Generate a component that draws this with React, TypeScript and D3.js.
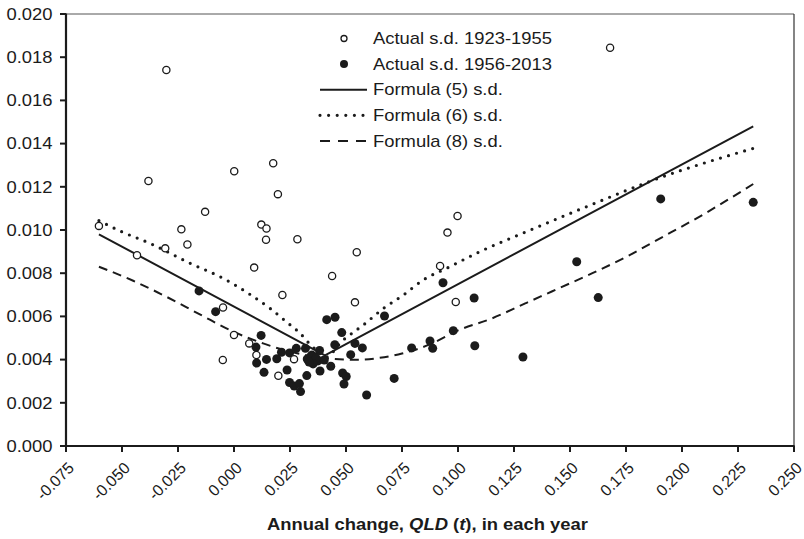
import React from "react";
import * as d3 from "d3";

const W = 804;
const H = 539;

// Axis ticks
const xTicks = [-0.075, -0.05, -0.025, 0, 0.025, 0.05, 0.075, 0.1, 0.125, 0.15, 0.175, 0.2, 0.225, 0.25];
const xTickLabels = ["-0.075", "-0.050", "-0.025", "0.000", "0.025", "0.050", "0.075", "0.100", "0.125", "0.150", "0.175", "0.200", "0.225", "0.250"];
const yTicks = [0, 0.002, 0.004, 0.006, 0.008, 0.01, 0.012, 0.014, 0.016, 0.018, 0.02];
const yTickLabels = ["0.000", "0.002", "0.004", "0.006", "0.008", "0.010", "0.012", "0.014", "0.016", "0.018", "0.020"];

const legendLabels = [
  "Actual s.d. 1923-1955",
  "Actual s.d. 1956-2013",
  "Formula (5) s.d.",
  "Formula (6) s.d.",
  "Formula (8) s.d.",
];

// Actual s.d. 1923-1955 (open circles): [QLD(t), s.d.]
const actual1923: [number, number][] = [
  [-0.0603, 0.01019], [-0.0433, 0.00883], [-0.0302, 0.01741], [-0.0382, 0.01227],
  [-0.0235, 0.01003], [-0.0208, 0.00933], [-0.0129, 0.01084], [0.0001, 0.01272],
  [-0.0307, 0.00915], [0.0122, 0.01025], [0.0145, 0.01007], [0.0143, 0.00955],
  [0.009, 0.00826], [-0.0049, 0.00641], [0.0, 0.00514], [0.0068, 0.00475],
  [0.01, 0.00421], [-0.005, 0.00398], [0.0268, 0.00402], [0.0198, 0.00325],
  [0.0175, 0.01309], [0.0196, 0.01166], [0.0283, 0.00957], [0.0548, 0.00897],
  [0.0953, 0.00988], [0.0998, 0.01065], [0.092, 0.00833], [0.1679, 0.01844],
  [0.0438, 0.00787], [0.054, 0.00665], [0.099, 0.00667], [0.0216, 0.00699],
];

// Actual s.d. 1956-2013 (filled circles)
const actual1956: [number, number][] = [
  [-0.0156, 0.00718], [-0.0082, 0.00622], [0.0121, 0.00512], [0.0098, 0.00458],
  [0.0101, 0.00384], [0.0145, 0.00401], [0.0134, 0.00341], [0.0191, 0.00404],
  [0.0212, 0.00434], [0.0248, 0.00431], [0.0278, 0.00452], [0.0237, 0.00352],
  [0.0248, 0.00294], [0.0269, 0.00278], [0.0297, 0.00252], [0.0292, 0.00289],
  [0.0325, 0.00326], [0.0319, 0.00452], [0.0327, 0.00403], [0.0347, 0.00387],
  [0.0362, 0.00412], [0.0382, 0.00442], [0.0384, 0.00347], [0.0375, 0.00394],
  [0.0348, 0.00421], [0.0403, 0.00398], [0.0432, 0.00369], [0.0414, 0.00585],
  [0.0451, 0.00596], [0.0481, 0.00525], [0.045, 0.00469], [0.0485, 0.00338],
  [0.0501, 0.00322], [0.0491, 0.00287], [0.0521, 0.00423], [0.054, 0.00475],
  [0.0573, 0.00454], [0.0592, 0.00236], [0.0672, 0.00602], [0.0715, 0.00313],
  [0.0793, 0.00454], [0.0875, 0.00486], [0.0887, 0.00452], [0.0933, 0.00756],
  [0.0979, 0.00534], [0.1072, 0.00685], [0.1075, 0.00464], [0.129, 0.00412],
  [0.153, 0.00853], [0.1626, 0.00687], [0.1905, 0.01144], [0.2318, 0.01128],
  [0.0344, 0.00417], [0.0366, 0.00407], [0.0353, 0.0038], [0.0335, 0.00389],
];

// Formula (5) s.d. (solid)
const formula5: [number, number][] = [
  [-0.0603, 0.0098], [0.0406, 0.0042], [0.2318, 0.0148],
];

// Formula (6) s.d. (dotted)
const formula6: [number, number][] = [
  [-0.0603, 0.01043], [-0.0501, 0.00992], [-0.0375, 0.00938], [-0.0196, 0.00846],
  [-0.0048, 0.00776], [0.0071, 0.00702], [0.0161, 0.00637], [0.0242, 0.00568],
  [0.0295, 0.00522], [0.0339, 0.00471], [0.0384, 0.00429], [0.0406, 0.0041],
  [0.0488, 0.00491], [0.0577, 0.0056], [0.0667, 0.00637], [0.0756, 0.00699],
  [0.0845, 0.00769], [0.095, 0.00823], [0.1098, 0.009], [0.13, 0.0099],
  [0.1574, 0.01108], [0.1872, 0.01231], [0.2318, 0.01378],
];

// Formula (8) s.d. (dashed)
const formula8: [number, number][] = [
  [-0.0603, 0.0083], [-0.045, 0.00765], [-0.03, 0.0069], [-0.015, 0.00608],
  [0.0, 0.00528], [0.013, 0.00475], [0.025, 0.00437], [0.035, 0.00415],
  [0.045, 0.00403], [0.055, 0.00399], [0.065, 0.00408], [0.075, 0.00428],
  [0.088, 0.00473], [0.1, 0.00535], [0.115, 0.0059], [0.13, 0.0066],
  [0.145, 0.0073], [0.16, 0.008], [0.175, 0.00875], [0.19, 0.0096],
  [0.21, 0.01075], [0.2318, 0.01213],
];

const INK = "#1b1b1b";
const FONT = "'Liberation Sans', Arial, Helvetica, sans-serif";

export default function App() {
  const x = d3.scaleLinear().domain([-0.075, 0.25]).range([66, 794]);
  const y = d3.scaleLinear().domain([0, 0.02]).range([446, 14]);

  const straight = d3.line<[number, number]>().x((d) => x(d[0])).y((d) => y(d[1]));
  const smooth = d3
    .line<[number, number]>()
    .x((d) => x(d[0]))
    .y((d) => y(d[1]))
    .curve(d3.curveMonotoneX);

  const x0 = x.range()[0];
  const x1 = x.range()[1];
  const y0 = y.range()[0];
  const y1 = y.range()[1];

  const legX = 344;
  const legY0 = 38.5;
  const legDy = 25.6;
  const legTextX = 373;

  return (
    <svg
      width={W}
      height={H}
      style={{ position: "absolute", left: 0, top: 0, background: "#fff" }}
      fontFamily={FONT}
    >
      <rect x={0} y={0} width={W} height={H} fill="#fff" />

      {/* frame: top & right thin */}
      <line x1={x0} x2={x1} y1={y1} y2={y1} stroke="#555" strokeWidth={1} />
      <line x1={x1} x2={x1} y1={y1} y2={y0} stroke="#333" strokeWidth={1.2} />

      {/* formula lines */}
      <path d={straight(formula5) || ""} fill="none" stroke={INK} strokeWidth={2} />
      <path
        d={smooth(formula6) || ""}
        fill="none"
        stroke={INK}
        strokeWidth={3.2}
        strokeDasharray="0 8.4"
        strokeLinecap="round"
      />
      <path
        d={smooth(formula8) || ""}
        fill="none"
        stroke={INK}
        strokeWidth={2}
        strokeDasharray="9 6"
      />

      {/* filled points */}
      {actual1956.map((d, i) => (
        <circle key={"f" + i} cx={x(d[0])} cy={y(d[1])} r={4.5} fill={INK} />
      ))}
      {/* open points */}
      {actual1923.map((d, i) => (
        <circle
          key={"o" + i}
          cx={x(d[0])}
          cy={y(d[1])}
          r={3.6}
          fill="#fff"
          stroke={INK}
          strokeWidth={1.3}
        />
      ))}

      {/* axes */}
      <line x1={x0} x2={x0} y1={y1 - 0.5} y2={y0 + 1} stroke={INK} strokeWidth={2.2} />
      <line x1={x0 - 1} x2={x1 + 0.6} y1={y0} y2={y0} stroke={INK} strokeWidth={2.2} />

      {yTicks.map((t, i) => (
        <g key={"yt" + i}>
          <line x1={x0 - 6} x2={x0} y1={y(t)} y2={y(t)} stroke={INK} strokeWidth={2} />
          <text
            transform={`translate(52.5,${y(t)}) scale(1.15,1)`}
            textAnchor="end"
            dy="0.36em"
            fontSize={16}
            fill={INK}
          >
            {yTickLabels[i]}
          </text>
        </g>
      ))}

      {xTicks.map((t, i) => (
        <g key={"xt" + i}>
          <line x1={x(t)} x2={x(t)} y1={y0} y2={y0 + 6} stroke={INK} strokeWidth={2} />
          <text
            transform={`translate(${x(t) + 9},${y0 + 23}) rotate(-45)`}
            textAnchor="end"
            fontSize={16}
            fill={INK}
          >
            {xTickLabels[i]}
          </text>
        </g>
      ))}

      {/* x axis title */}
      <text
        transform={`translate(427.5,530) scale(1.15,1)`}
        textAnchor="middle"
        fontSize={16}
        fontWeight="bold"
        fill={INK}
      >
        <tspan>Annual change, </tspan>
        <tspan fontStyle="italic">QLD</tspan>
        <tspan> (</tspan>
        <tspan fontStyle="italic">t</tspan>
        <tspan>), in each year</tspan>
      </text>

      {/* legend */}
      <circle cx={legX} cy={legY0} r={3} fill="#fff" stroke={INK} strokeWidth={1.3} />
      <circle cx={legX} cy={legY0 + legDy} r={4} fill={INK} />
      <line x1={320} x2={367} y1={legY0 + 2 * legDy} y2={legY0 + 2 * legDy} stroke={INK} strokeWidth={2} />
      <line
        x1={320}
        x2={366}
        y1={legY0 + 3 * legDy}
        y2={legY0 + 3 * legDy}
        stroke={INK}
        strokeWidth={3.2}
        strokeDasharray="0 8.6"
        strokeLinecap="round"
      />
      <line
        x1={320}
        x2={368}
        y1={legY0 + 4 * legDy}
        y2={legY0 + 4 * legDy}
        stroke={INK}
        strokeWidth={2}
        strokeDasharray="10 8"
      />
      {legendLabels.map((l, i) => (
        <text
          key={"lg" + i}
          transform={`translate(${legTextX},${legY0 + i * legDy}) scale(1.15,1)`}
          dy="0.36em"
          fontSize={16}
          fill={INK}
        >
          {l}
        </text>
      ))}
    </svg>
  );
}
